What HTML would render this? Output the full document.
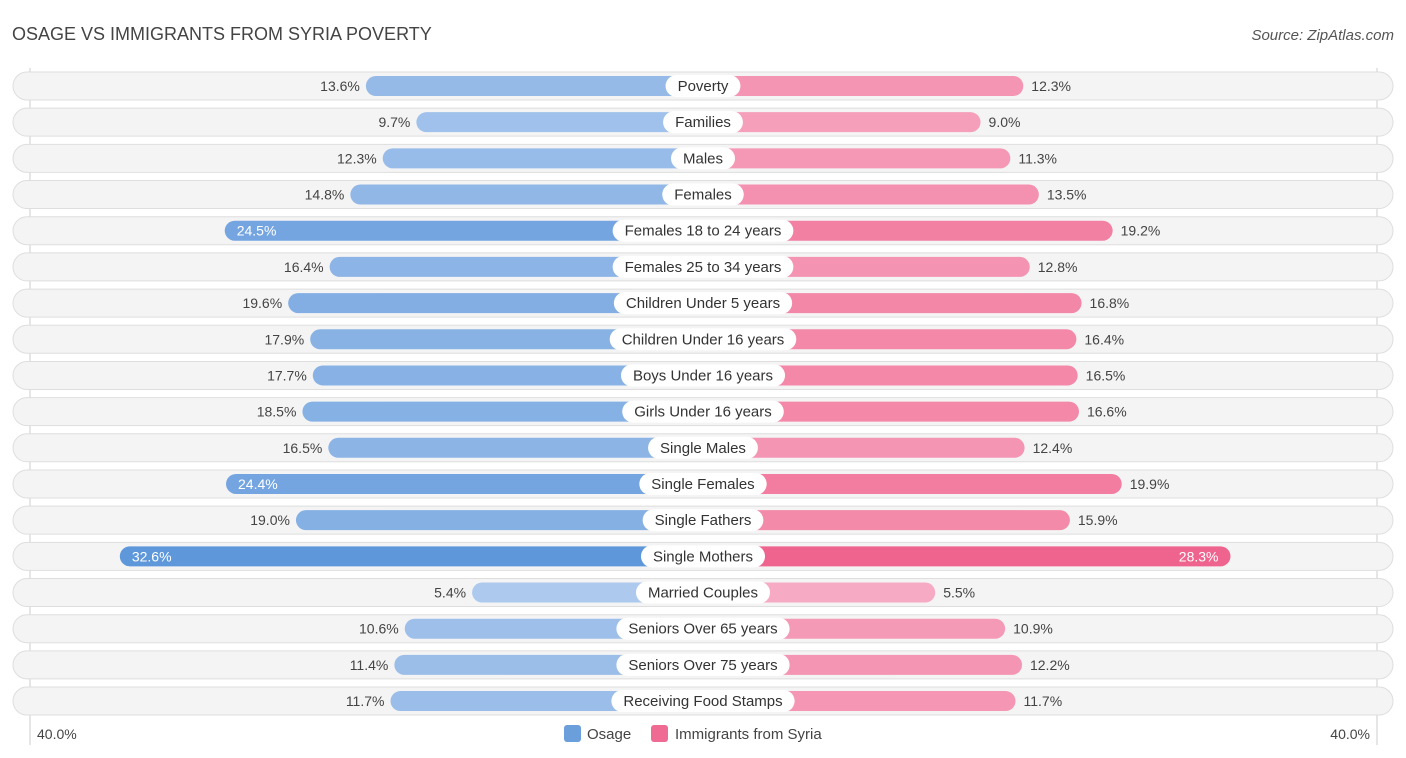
<!DOCTYPE html>
<html><head><meta charset="utf-8">
<style>
body{margin:0;background:#fff;font-family:"Liberation Sans",sans-serif;}
#wrap{position:relative;width:1406px;height:758px;overflow:hidden;}
</style></head>
<body>
<div id="wrap">
<svg id="svg" width="1406" height="758" xmlns="http://www.w3.org/2000/svg">
<text x="12" y="40" font-size="18" fill="#444">OSAGE VS IMMIGRANTS FROM SYRIA POVERTY</text>
<text x="1394" y="40" font-size="15" fill="#555" font-style="italic" text-anchor="end">Source: ZipAtlas.com</text>
<line x1="30" y1="68" x2="30" y2="745" stroke="#ccc" stroke-width="1"/>
<line x1="1377" y1="68" x2="1377" y2="745" stroke="#ccc" stroke-width="1"/>
<g id="rows"></g>
<text x="37" y="739" font-size="14" fill="#444">40.0%</text>
<text x="1370" y="739" font-size="14" fill="#444" text-anchor="end">40.0%</text>
<g>
<rect x="564" y="725" width="17" height="17" rx="3" fill="#6a9fdc"/>
<text x="587" y="739" font-size="15" fill="#444">Osage</text>
<rect x="651" y="725" width="17" height="17" rx="3" fill="#f06b94"/>
<text x="675" y="739" font-size="15" fill="#444">Immigrants from Syria</text>
</g>
</svg>
</div>
<script>
const categories=["Poverty","Families","Males","Females","Females 18 to 24 years","Females 25 to 34 years","Children Under 5 years","Children Under 16 years","Boys Under 16 years","Girls Under 16 years","Single Males","Single Females","Single Fathers","Single Mothers","Married Couples","Seniors Over 65 years","Seniors Over 75 years","Receiving Food Stamps"];
const osageValues=[13.6,9.7,12.3,14.8,24.5,16.4,19.6,17.9,17.7,18.5,16.5,24.4,19.0,32.6,5.4,10.6,11.4,11.7];
const syriaValues=[12.3,9.0,11.3,13.5,19.2,12.8,16.8,16.4,16.5,16.6,12.4,19.9,15.9,28.3,5.5,10.9,12.2,11.7];
const NS="http://www.w3.org/2000/svg";
const cx=703, y0=86, step=36.18, bh=20;
function len(v){return 161+12.95*v;}
function rowY(i){return y0+i*step;}
function mix(a,b,t){return 'rgb('+a.map((c,k)=>Math.round(c+(b[k]-c)*t)).join(',')+')';}
function blue(v){return mix([174,202,238],[94,151,218],Math.min(1,Math.max(0,(v-5)/27)));}
function pink(v){return mix([247,172,196],[239,100,142],Math.min(1,Math.max(0,(v-5)/23)));}
function mk(tag,attrs,parent){const e=document.createElementNS(NS,tag);for(const k in attrs)e.setAttribute(k,attrs[k]);parent.appendChild(e);return e;}
const g=document.getElementById('rows');
const meas=mk('text',{'font-size':15,x:-999,y:-999},g);
categories.forEach((c,i)=>{
  const y=rowY(i);
  const bg=mk('rect',{x:13,y:y-14,width:1380,height:28,rx:14,fill:'#f4f4f4',stroke:'#dedede','stroke-width':1},g);
  
  
  const ov=osageValues[i], sv=syriaValues[i];
  const lw=len(ov), rw=len(sv);
  const lb=mk('rect',{x:cx-lw,y:y-bh/2,width:lw,height:bh,rx:10,fill:blue(ov)},g);
  
  
  const rb=mk('rect',{x:cx,y:y-bh/2,width:rw,height:bh,rx:10,fill:pink(sv)},g);
  
  
  // category label pill
  meas.textContent=c;
  const tw=meas.getComputedTextLength();
  const pw=tw+24;
  const pill=mk('rect',{x:cx-pw/2,y:y-11,width:pw,height:22,rx:11,fill:'#fff'},g);
  
  
  const t=mk('text',{x:cx,y:y+5,'font-size':15,fill:'#333','text-anchor':'middle'},g);
  t.textContent=c;
  
  
  // values
  const inL=ov>20, inR=sv>20;
  const lt=mk('text',{x:inL?cx-lw+12:cx-lw-6,y:y+5,'font-size':14,fill:inL?'#fff':'#444','text-anchor':inL?'start':'end'},g);
  lt.textContent=ov.toFixed(1)+'%';
  
  
  const rt=mk('text',{x:inR?cx+rw-12:cx+rw+8,y:y+5,'font-size':14,fill:inR?'#fff':'#444','text-anchor':inR?'end':'start'},g);
  rt.textContent=sv.toFixed(1)+'%';
  
  
});
meas.remove();
</script>
</body></html>
